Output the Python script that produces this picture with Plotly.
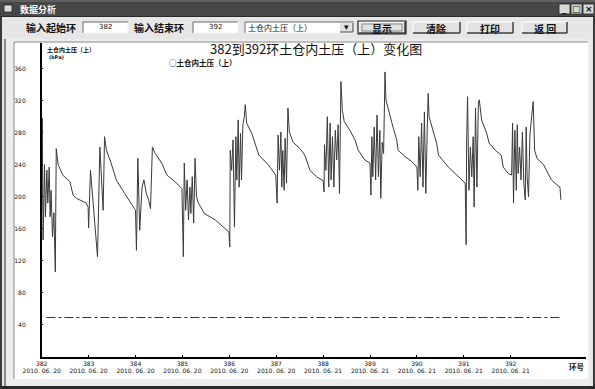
import plotly.graph_objects as go

# ---- data: earth pressure in the upper soil chamber, rings 382-392 ----
ring_pos = [
    382.00, 382.01, 382.03, 382.06, 382.08, 382.11, 382.13, 382.16, 382.18, 382.20,
    382.23, 382.26, 382.29, 382.31, 382.35, 382.45, 382.60, 382.67, 382.74, 382.95, 382.99,
    383.00, 383.04, 383.09, 383.14, 383.19, 383.24, 383.27, 383.31, 383.34, 383.38,
    383.48, 383.59, 383.77, 383.91, 384.00,
    384.02, 384.05, 384.09, 384.14, 384.18, 384.23, 384.28, 384.32, 384.36, 384.42,
    384.56, 384.67, 384.84, 384.99,
    385.02, 385.04, 385.07, 385.10, 385.13, 385.16, 385.18, 385.21, 385.24, 385.27,
    385.30, 385.34, 385.47, 385.70, 385.99,
    386.01, 386.02, 386.05, 386.08, 386.11, 386.14, 386.16, 386.19, 386.21, 386.24,
    386.26, 386.29, 386.32, 386.34, 386.37, 386.48, 386.63, 386.83, 386.99,
    387.02, 387.04, 387.07, 387.10, 387.12, 387.14, 387.17, 387.19, 387.22, 387.25,
    387.28, 387.36, 387.51, 387.61, 387.72, 387.86, 388.00,
    388.02, 388.03, 388.06, 388.09, 388.12, 388.15, 388.17, 388.20, 388.23, 388.26,
    388.29, 388.32, 388.35, 388.38, 388.41, 388.45, 388.57, 388.68, 388.75, 388.89, 389.00,
    389.02, 389.04, 389.06, 389.09, 389.12, 389.15, 389.18, 389.21, 389.23, 389.26,
    389.29, 389.32, 389.34, 389.41, 389.50, 389.57, 389.60, 389.75, 389.89, 390.00,
    390.02, 390.04, 390.07, 390.10, 390.13, 390.16, 390.19, 390.22, 390.24, 390.26,
    390.35, 390.42, 390.46, 390.67, 391.03,
    391.05, 391.06, 391.08, 391.11, 391.14, 391.17, 391.20, 391.22, 391.25, 391.28,
    391.31, 391.33, 391.38, 391.49, 391.54, 391.67, 391.80, 391.84, 391.95, 392.02,
    392.04, 392.06, 392.09, 392.12, 392.14, 392.16, 392.19, 392.22, 392.25, 392.28,
    392.31, 392.33, 392.35, 392.38, 392.41, 392.44, 392.48, 392.51, 392.56, 392.70,
    392.80, 392.87, 392.98, 393.05, 393.07,
]
pressure = [
    183, 298, 146, 240, 175, 233, 192, 237, 175, 208,
    150, 180, 106, 260, 240, 227, 219, 202, 198, 192, 187,
    161, 233, 200, 162, 125, 262, 221, 183, 275, 258,
    242, 221, 204, 192, 183,
    133, 248, 158, 212, 221, 204, 196, 185, 262, 254,
    242, 227, 219, 210,
    125, 242, 183, 221, 171, 212, 179, 225, 167, 248,
    200, 192, 179, 171, 156,
    137, 258, 233, 271, 162, 275, 221, 296, 212, 279,
    221, 290, 300, 315, 292, 279, 252, 240, 227,
    192, 277, 233, 281, 212, 258, 208, 273, 217, 311,
    281, 268, 260, 252, 233, 225, 220,
    206, 265, 233, 300, 212, 292, 221, 275, 212, 283,
    246, 290, 204, 344, 308, 294, 283, 271, 258, 246, 242,
    202, 275, 225, 287, 221, 302, 225, 283, 198, 268,
    254, 356, 321, 304, 285, 271, 258, 250, 244, 237,
    208, 275, 225, 292, 212, 306, 204, 283, 329, 300,
    283, 267, 252, 237, 217,
    140, 267, 325, 208, 262, 225, 275, 187, 311, 212,
    317, 321, 296, 279, 267, 258, 252, 237, 229, 227,
    292, 192, 283, 208, 290, 229, 262, 221, 281, 217,
    196, 287, 225, 200, 277, 296, 319, 258, 248, 240,
    229, 221, 215, 212, 196,
]

rings = list(range(382, 393))
ring_dates = ["2010. 06. 20"] * 6 + ["2010. 06. 21"] * 5
y_ticks = [40, 80, 120, 160, 200, 240, 280, 320, 360]
ref_level = 49
ref_span = [382.1, 393.05]

series_name = "土仓内土压（上）"
start_ring, end_ring = rings[0], rings[-1]

W, H = 595, 389
CJK = "Noto Sans CJK SC"


def fx(x):
    return x / W


def fy(y):
    return 1 - y / H


shapes = []


def rect(x0, y0, x1, y1, fill=None, line=None, lw=1, layer="below"):
    shapes.append(dict(
        type="rect", xref="paper", yref="paper",
        x0=fx(x0), x1=fx(x1), y0=fy(y1), y1=fy(y0),
        fillcolor=fill if fill else "rgba(0,0,0,0)",
        line=dict(color=line if line else "rgba(0,0,0,0)", width=lw if line else 0),
        layer=layer,
    ))


def hline(x0, x1, y, color, lw=1, layer="below"):
    shapes.append(dict(type="line", xref="paper", yref="paper",
                       x0=fx(x0), x1=fx(x1), y0=fy(y), y1=fy(y),
                       line=dict(color=color, width=lw), layer=layer))


def vline(x, y0, y1, color, lw=1, layer="below"):
    shapes.append(dict(type="line", xref="paper", yref="paper",
                       x0=fx(x), x1=fx(x), y0=fy(y0), y1=fy(y1),
                       line=dict(color=color, width=lw), layer=layer))


annotations = []


def text(x, y, s, size=11, color="#111", anchor="left", font=CJK, bold=False):
    annotations.append(dict(
        xref="paper", yref="paper", x=fx(x), y=fy(y),
        xanchor=anchor, yanchor="middle", showarrow=False,
        text=f"<b>{s}</b>" if bold else s,
        font=dict(family=font, size=size, color=color),
        borderpad=0,
    ))


def sunken(x0, y0, x1, y1, fill="#ffffff"):
    rect(x0, y0, x1, y1, fill=fill)
    hline(x0, x1, y0, "#6a6a6a")
    vline(x0, y0, y1, "#6a6a6a")
    hline(x0, x1, y1, "#f4f4f4")
    vline(x1, y0, y1, "#f4f4f4")


def button(x0, y0, x1, y1, label, focus=False):
    rect(x0, y0, x1, y1, fill="#e2e2e2")
    hline(x0, x1, y0, "#ffffff")
    vline(x0, y0, y1, "#ffffff")
    hline(x0, x1, y1, "#404040", 1.5)
    vline(x1, y0, y1, "#404040", 1.5)
    if focus:
        rect(x0 - 1, y0 - 1, x1 + 1, y1 + 1, line="#202020", lw=1.2)
        rect(x0 + 3, y0 + 2, x1 - 3, y1 - 2, line="#777777", lw=0.8)
    text((x0 + x1) / 2, (y0 + y1) / 2 + 0.5, label, size=10, anchor="center", bold=True)


# window title bar
rect(0, 0, W, 17, fill="#474747")
hline(0, W, 1, "#7a7a7a")
hline(0, W, 16.5, "#2a2a2a")
rect(4, 5, 12, 12, fill="#dcdcdc", line="#222", lw=0.8)
text(19, 9, "数据分析", size=9, color="#ffffff", bold=True)
for bx, sym in [(559, "_"), (571, "□"), (583, "×")]:
    rect(bx, 4, bx + 11, 14, fill="#d8d8d8", line="#222", lw=0.8)
    text(bx + 5.5, 9, sym, size=9, anchor="center", font="DejaVu Sans", bold=True)

# window border
vline(1, 17, H, "#3a3a3a", 2)
vline(W - 1, 17, H, "#3a3a3a", 2)
hline(0, W, H - 1.5, "#2a2a2a", 3)

# control row
text(25, 27, "输入起始环", size=10, bold=True)
sunken(83, 22, 128, 33)
text(105.5, 27.5, str(start_ring), size=7, anchor="center", font="DejaVu Sans")
text(133, 27, "输入结束环", size=10, bold=True)
sunken(193, 22, 238, 33)
text(215.5, 27.5, str(end_ring), size=7, anchor="center", font="DejaVu Sans")
sunken(245, 22, 354, 33)
text(247, 27.5, series_name, size=8)
rect(340, 23, 353, 32, fill="#e2e2e2")
hline(340, 353, 32, "#404040")
vline(353, 23, 32, "#404040")
text(346.5, 27.5, "▾", size=9, anchor="center", font="DejaVu Sans")
button(359, 22, 405, 33, "显示", focus=True)
button(413, 22, 460, 33, "清除")
button(467, 22, 513, 33, "打印")
button(522, 22, 567, 33, "返 回")

# chart frame
rect(5, 39, 591, 386, fill="#ececec")
vline(5, 39, 386, "#4a4a4a", 1.2)
rect(14, 42, 588, 379, fill="#ffffff")
hline(14, 588, 42, "#8a8a8a")
vline(14, 42, 379, "#8a8a8a")

# chart texts
text(316, 48, f"{start_ring}到{end_ring}环{series_name}变化图", size=13, anchor="center")
text(46, 49.5, series_name, size=6, bold=True)
text(48, 57.5, "(kPa)", size=5, font="DejaVu Sans", bold=True)
text(168, 63, "○" + series_name, size=7.5, bold=True)
text(568, 366, "环号", size=7.5, bold=True)

fig = go.Figure()
fig.add_trace(go.Scatter(
    x=ring_pos, y=pressure, mode="lines",
    line=dict(color="#3a3a3a", width=1),
    showlegend=False, hoverinfo="skip",
))
fig.add_trace(go.Scatter(
    x=ref_span, y=[ref_level, ref_level], mode="lines",
    line=dict(color="#333333", width=1, dash="dashdot"),
    showlegend=False, hoverinfo="skip",
))

px_left, px_right = 41.7, 586
px_top, px_bottom = 43, 356.7
ring_px = 46.9
val_px = 0.8

fig.update_layout(
    width=W, height=H,
    margin=dict(l=0, r=0, t=0, b=0, pad=0),
    paper_bgcolor="#e6e6e6",
    plot_bgcolor="#ffffff",
    showlegend=False,
    shapes=shapes,
    annotations=annotations,
    xaxis=dict(
        automargin=False,
        domain=[fx(px_left), fx(px_right)],
        range=[382, 382 + (px_right - px_left) / ring_px],
        tickvals=rings,
        ticktext=[f"{r}<br>{d}" for r, d in zip(rings, ring_dates)],
        ticks="inside", ticklen=2, tickcolor="#000",
        tickfont=dict(family="DejaVu Sans", size=6, color="#111"),
        showline=True, linecolor="#000", linewidth=1.5,
        showgrid=False, zeroline=False,
        ticklabelstandoff=0,
    ),
    yaxis=dict(
        automargin=False,
        domain=[fy(px_bottom), fy(px_top)],
        range=[0, (px_bottom - px_top) / val_px],
        tickvals=y_ticks,
        ticks="inside", ticklen=2, tickcolor="#000",
        tickfont=dict(family="DejaVu Sans", size=6, color="#111"),
        showline=True, linecolor="#000", linewidth=1.5,
        showgrid=False, zeroline=False,
        ticklabelstandoff=13,
    ),
)

fig.write_html("out.html")
